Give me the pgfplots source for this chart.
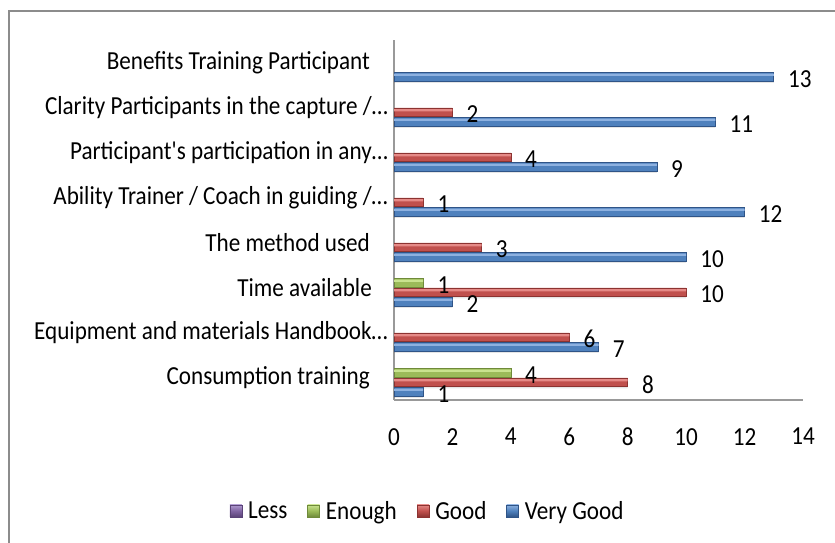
\documentclass[border=0pt]{standalone}
\usepackage{fontspec}
\setmainfont{Carlito}[FakeStretch=0.89]
\newfontfamily\rawfont{Carlito}[FakeStretch=0.89]
\usepackage{pgfplots}
\pgfplotsset{compat=1.18}
\definecolor{vg}{HTML}{4F81BD}\definecolor{vgd}{HTML}{2F5487}\definecolor{vgl}{HTML}{8DB1E0}
\definecolor{gd}{HTML}{C0504D}\definecolor{gdd}{HTML}{8C3331}\definecolor{gdl}{HTML}{E58A87}
\definecolor{en}{HTML}{9BBB59}\definecolor{end}{HTML}{6F8A3A}\definecolor{enl}{HTML}{C9E38F}
\definecolor{ls}{HTML}{8064A2}\definecolor{lsd}{HTML}{5A4377}\definecolor{lsl}{HTML}{B09AD0}
\newcommand{\fs}{\fontsize{26}{30}\selectfont}
\begin{document}
\begin{tikzpicture}
\useasboundingbox (0pt,0pt) rectangle (835pt,543pt);
\clip (0pt,0pt) rectangle (835pt,543pt);
\fill[white] (0pt,0pt) rectangle (835pt,543pt);
\draw[color=black!45, line width=2pt] (840pt,532pt) -- (9pt,532pt) -- (9pt,-5pt);
\begin{axis}[
  at={(394pt,143pt)}, anchor=south west,
  scale only axis, width=409pt, height=360pt,
  xmin=0, xmax=14, ymin=-0.5, ymax=7.5,
  xtick={0,2,...,14}, ytick={0,...,7},
  yticklabels={{Consumption training\kern18pt},{Equipment and materials Handbook…},{Time available\kern16pt},{The method used\kern18pt},{Ability Trainer / Coach in guiding /…},{Participant{\rawfont'}s participation in any…},{Clarity Participants in the capture /…},{Benefits Training Participant\kern18pt}},
  axis x line=bottom, axis y line=left,
  axis line style={-, draw=black!40, line width=1.2pt},
  major tick length=0pt,
  /pgf/number format/assume math mode=true,
  yticklabel style={anchor=east, inner sep=0pt, xshift=-6pt, font=\fs},
  xticklabel style={anchor=north, inner sep=0pt, yshift=-28pt, font=\fs},
  clip=false,
  xbar, bar width=8.5pt,
  nodes near coords style={anchor=west, inner sep=0pt, xshift=14pt, yshift=-2pt, font=\fs, text=black},
  legend columns=4,
  legend style={draw=none, at={(0.0807,-0.308)}, anchor=center, font=\fs,
    /tikz/every even column/.append style={column sep=19pt},
    nodes={inner sep=1pt}, column sep=5pt},
  legend image code/.code={\draw[#1, line width=0.5pt] (0pt,-6pt) rectangle (12pt,6pt);},
  hl/.style={forget plot, draw=none, bar width=2.4pt},
  sh/.style={forget plot, draw=none, fill=black, fill opacity=0.10, bar width=6pt},
]
\addlegendimage{top color=lsl, bottom color=lsd, middle color=ls, draw=lsd}
\addlegendentry{Less}
\addlegendimage{top color=enl, bottom color=end, middle color=en, draw=end}
\addlegendentry{Enough}
\addlegendimage{top color=gdl, bottom color=gdd, middle color=gd, draw=gdd}
\addlegendentry{Good}
\addlegendimage{top color=vgl, bottom color=vgd, middle color=vg, draw=vgd}
\addlegendentry{Very Good}

% shadows
\addplot[sh, bar shift=-17.5pt] coordinates {(1,0) (7,1) (2,2) (10,3) (12,4) (9,5) (11,6) (13,7)};
\addplot[sh, bar shift=-8pt] coordinates {(8,0) (6,1) (10,2) (3,3) (1,4) (4,5) (2,6)};
\addplot[sh, bar shift=1.5pt] coordinates {(4,0) (1,2)};
% Very Good
\addplot[forget plot, bar shift=-14.25pt, draw=vgd, line width=0.6pt, fill=vg, nodes near coords]
  coordinates {(1,0) (7,1) (2,2) (10,3) (12,4) (9,5) (11,6) (13,7)};
\addplot[hl, bar shift=-12.3pt, fill=vgl]
  coordinates {(1,0) (7,1) (2,2) (10,3) (12,4) (9,5) (11,6) (13,7)};
% Good
\addplot[forget plot, bar shift=-4.75pt, draw=gdd, line width=0.6pt, fill=gd, nodes near coords]
  coordinates {(8,0) (6,1) (10,2) (3,3) (1,4) (4,5) (2,6)};
\addplot[hl, bar shift=-2.8pt, fill=gdl]
  coordinates {(8,0) (6,1) (10,2) (3,3) (1,4) (4,5) (2,6)};
% Enough
\addplot[forget plot, bar shift=4.75pt, draw=end, line width=0.6pt, fill=en, nodes near coords]
  coordinates {(4,0) (1,2)};
\addplot[hl, bar shift=6.7pt, fill=enl]
  coordinates {(4,0) (1,2)};
\end{axis}
\end{tikzpicture}
\end{document}
